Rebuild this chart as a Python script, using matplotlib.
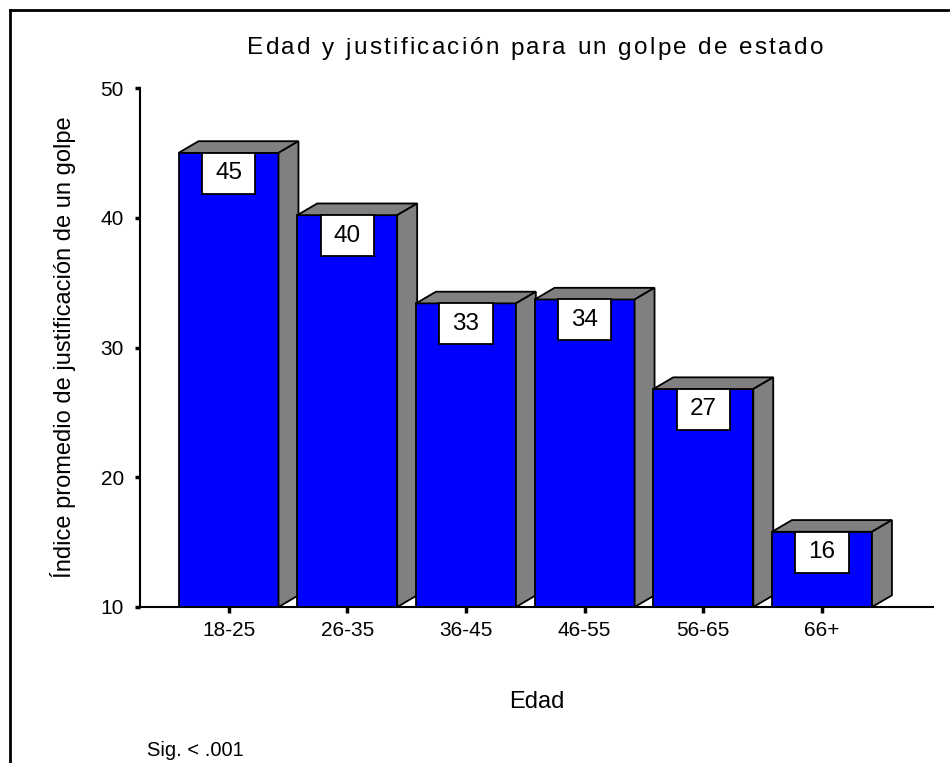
"""Edad y justificación para un golpe de estado - Balken im Pseudo-3D-Stil."""
import matplotlib
matplotlib.use("Agg")
import matplotlib.pyplot as plt
from matplotlib import font_manager
from matplotlib.ft2font import FT2Font
from matplotlib.patches import Polygon, Rectangle
from matplotlib.lines import Line2D

plt.rcParams["font.family"] = ["Liberation Sans", "DejaVu Sans"]

# Daten
grupos = ["18-25", "26-35", "36-45", "46-55", "56-65", "66+"]
valores = [45.0, 40.2, 33.4, 33.7, 26.8, 15.8]
etiquetas = ["45", "40", "33", "34", "27", "16"]
y_ticks = [10, 20, 30, 40, 50]
titulo = "Edad y justificación para un golpe de estado"

AZUL = "#0000FF"
GRIS = "#808080"
W, H = 950, 763

fig = plt.figure(figsize=(W / 100, H / 100), dpi=100)
ax = fig.add_axes([140 / W, 156 / H, 793 / W, 519 / H])

base = 10
ancho = 0.842          # Frontbreite in Dateneinheiten
dx, dy = 0.168, 0.9    # Tiefe der 3D-Seite
caja_w, caja_h = 0.45, 3.15

for i, (v, lab) in enumerate(zip(valores, etiquetas)):
    x0, x1 = i - ancho / 2, i + ancho / 2
    ax.add_patch(Rectangle((x0, base), ancho, v - base, facecolor=AZUL,
                           edgecolor="black", lw=1.3, zorder=3, clip_on=False))
    ax.add_patch(Polygon([(x0, v), (x1, v), (x1 + dx, v + dy), (x0 + dx, v + dy)],
                         closed=True, facecolor=GRIS, edgecolor="black", lw=1.3,
                         zorder=3, clip_on=False))
    ax.add_patch(Polygon([(x1, base), (x1 + dx, base + dy), (x1 + dx, v + dy), (x1, v)],
                         closed=True, facecolor=GRIS, edgecolor="black", lw=1.3,
                         zorder=3, clip_on=False))
    # Wertekasten oben am Balken
    ax.add_patch(Rectangle((i - caja_w / 2, v - caja_h), caja_w, caja_h,
                           facecolor="white", edgecolor="black", lw=1.3,
                           zorder=4, clip_on=False))
    ax.text(i, v - caja_h / 2, lab, ha="center", va="center", fontsize=17.5,
            zorder=5)

ax.set_xlim(-0.746, 5.935)
ax.set_ylim(10, 50)
ax.set_xticks(range(len(grupos)))
ax.set_xticklabels(grupos, fontsize=15)
ax.set_yticks(y_ticks)
ax.set_yticklabels([str(t) for t in y_ticks], fontsize=15)
ax.tick_params(axis="y", length=3.5, width=2.5, pad=8)
ax.tick_params(axis="x", length=4, width=2.5, pad=6)

for s in ["top", "right"]:
    ax.spines[s].set_visible(False)
for s in ["left", "bottom"]:
    ax.spines[s].set_linewidth(1.5)
ax.patch.set_alpha(0)

ax.set_xlabel("Edad", fontsize=17, va="center")
ax.xaxis.set_label_coords(0.5, -0.184)
ax.set_ylabel("Índice promedio de justificación de un golpe", fontsize=17,
              va="center", ha="center")
ax.yaxis.set_label_coords(-0.097, 0.5)

# Titel mit leicht erweitertem Zeichenabstand (zeichenweise gesetzt)
t_size = 17.5
t_left, t_right = 247, 823
ft = FT2Font(font_manager.findfont("Liberation Sans"))
ft.set_size(t_size, 100)
avances = []
for c in titulo:
    g = ft.load_char(ord(c))
    avances.append(g.linearHoriAdvance / 65536)
extra = ((t_right - t_left) - sum(avances)) / (len(titulo) - 1)
xpos = t_left
for c, a in zip(titulo, avances):
    if c != " ":
        fig.text(xpos / W, 1 - 46 / H, c, ha="left", va="center_baseline",
                 fontsize=t_size)
    xpos += a + extra

fig.text(147 / W, 1 - 751 / H, "Sig. < .001", ha="left", va="center",
         fontsize=14.5)

# Rahmen (nur links und oben sichtbar)
fy = 1 - 9.5 / H
fx = 10 / W
fig.add_artist(Line2D([fx, fx], [0, fy], color="black", lw=2))
fig.add_artist(Line2D([fx, 1], [fy, fy], color="black", lw=2))

fig.savefig("out.png", dpi=100)
